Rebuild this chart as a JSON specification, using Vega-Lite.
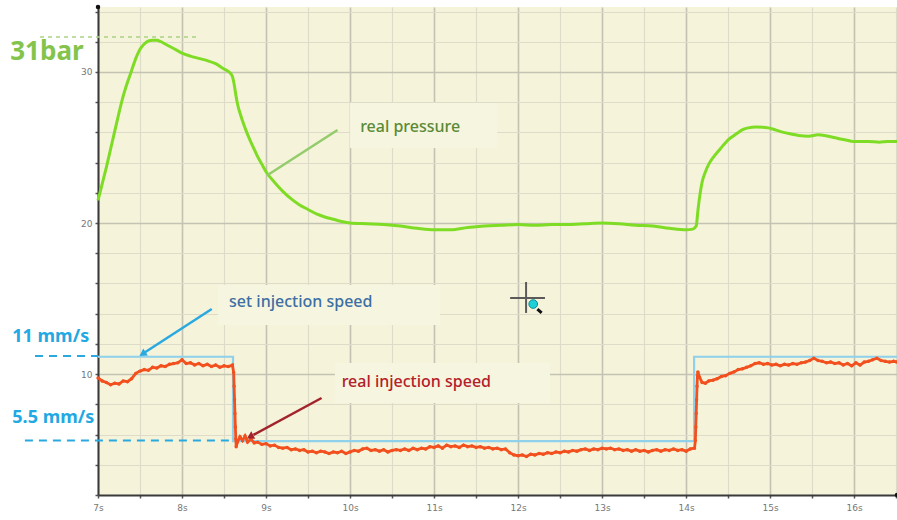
{
  "$schema": "https://vega.github.io/schema/vega-lite/v6.json",
  "width": 799,
  "height": 488,
  "autosize": {"type": "none"},
  "padding": {"left": 98, "top": 7, "right": 0, "bottom": 25},
  "background": "white",
  "config": {"view": {"fill": "#f5f3da", "stroke": null}},
  "resolve": {"scale": {"color": "independent"}},
  "datasets": {
    "boxes": [
      {"t": 10.0, "t2": 11.75, "v": 27.95, "v2": 24.97},
      {"t": 8.43, "t2": 11.07, "v": 15.9, "v2": 13.25},
      {"t": 9.82, "t2": 12.38, "v": 10.74, "v2": 8.09}
    ],
    "green": [
      {"t":7.00,"v":21.5},{"t":7.05,"v":22.6},{"t":7.10,"v":23.7},{"t":7.15,"v":24.9},{"t":7.20,"v":26.1},{"t":7.25,"v":27.3},{"t":7.30,"v":28.4},{"t":7.35,"v":29.3},{"t":7.40,"v":30.1},{"t":7.45,"v":30.9},{"t":7.50,"v":31.5},{"t":7.55,"v":31.85},{"t":7.60,"v":32.05},{"t":7.65,"v":32.1},{"t":7.70,"v":32.1},{"t":7.75,"v":32.0},{"t":7.80,"v":31.85},{"t":7.85,"v":31.7},{"t":7.90,"v":31.55},{"t":7.95,"v":31.4},{"t":8.00,"v":31.25},{"t":8.10,"v":31.05},{"t":8.20,"v":30.9},{"t":8.30,"v":30.75},{"t":8.40,"v":30.55},{"t":8.50,"v":30.2},{"t":8.56,"v":30.0},{"t":8.60,"v":29.7},{"t":8.62,"v":29.2},{"t":8.64,"v":28.5},{"t":8.66,"v":27.9},{"t":8.70,"v":27.1},{"t":8.75,"v":26.3},{"t":8.80,"v":25.6},{"t":8.85,"v":25.0},{"t":8.90,"v":24.4},{"t":8.95,"v":23.9},{"t":9.00,"v":23.4},{"t":9.10,"v":22.7},{"t":9.20,"v":22.1},{"t":9.30,"v":21.6},{"t":9.40,"v":21.2},{"t":9.50,"v":20.9},{"t":9.60,"v":20.6},{"t":9.70,"v":20.4},{"t":9.80,"v":20.25},{"t":9.90,"v":20.1},{"t":10.00,"v":20.0},{"t":10.20,"v":19.95},{"t":10.40,"v":19.9},{"t":10.60,"v":19.8},{"t":10.80,"v":19.65},{"t":11.00,"v":19.55},{"t":11.20,"v":19.55},{"t":11.40,"v":19.7},{"t":11.60,"v":19.8},{"t":11.80,"v":19.85},{"t":12.00,"v":19.9},{"t":12.20,"v":19.85},{"t":12.40,"v":19.9},{"t":12.60,"v":19.9},{"t":12.80,"v":19.95},{"t":13.00,"v":20.0},{"t":13.20,"v":19.95},{"t":13.40,"v":19.85},{"t":13.60,"v":19.8},{"t":13.80,"v":19.65},{"t":14.00,"v":19.55},{"t":14.08,"v":19.6},{"t":14.12,"v":19.8},{"t":14.14,"v":20.8},{"t":14.16,"v":21.7},{"t":14.19,"v":22.7},{"t":14.23,"v":23.4},{"t":14.27,"v":23.9},{"t":14.33,"v":24.4},{"t":14.39,"v":24.8},{"t":14.45,"v":25.2},{"t":14.51,"v":25.55},{"t":14.57,"v":25.8},{"t":14.62,"v":26.0},{"t":14.68,"v":26.2},{"t":14.74,"v":26.3},{"t":14.83,"v":26.36},{"t":14.98,"v":26.3},{"t":15.07,"v":26.15},{"t":15.16,"v":26.0},{"t":15.25,"v":25.9},{"t":15.34,"v":25.8},{"t":15.46,"v":25.75},{"t":15.57,"v":25.85},{"t":15.69,"v":25.75},{"t":15.81,"v":25.6},{"t":15.90,"v":25.5},{"t":15.99,"v":25.4},{"t":16.08,"v":25.4},{"t":16.17,"v":25.4},{"t":16.30,"v":25.35},{"t":16.40,"v":25.4},{"t":16.51,"v":25.4}
    ],
    "setspeed": [
      {"i":1,"t":7.0,"v":11.15},{"i":2,"t":8.607,"v":11.15},{"i":3,"t":8.607,"v":5.57},{"i":4,"t":14.095,"v":5.57},{"i":5,"t":14.095,"v":11.15},{"i":6,"t":16.51,"v":11.15}
    ],
    "red": [
      {"t":7.00,"v":9.75},{"t":7.05,"v":9.55},{"t":7.10,"v":9.45},{"t":7.15,"v":9.30},{"t":7.20,"v":9.40},{"t":7.25,"v":9.35},{"t":7.30,"v":9.55},{"t":7.35,"v":9.50},{"t":7.40,"v":9.70},{"t":7.45,"v":10.05},{"t":7.50,"v":10.20},{"t":7.55,"v":10.30},{"t":7.60,"v":10.25},{"t":7.65,"v":10.45},{"t":7.70,"v":10.40},{"t":7.75,"v":10.55},{"t":7.80,"v":10.50},{"t":7.85,"v":10.65},{"t":7.90,"v":10.70},{"t":7.95,"v":10.75},{"t":8.00,"v":10.95},{"t":8.05,"v":10.70},{"t":8.10,"v":10.75},{"t":8.15,"v":10.60},{"t":8.20,"v":10.70},{"t":8.25,"v":10.55},{"t":8.30,"v":10.65},{"t":8.35,"v":10.50},{"t":8.40,"v":10.60},{"t":8.45,"v":10.45},{"t":8.50,"v":10.55},{"t":8.55,"v":10.50},{"t":8.60,"v":10.60},
      {"t":8.615,"v":10.1},{"t":8.62,"v":9.2},{"t":8.625,"v":8.3},{"t":8.63,"v":7.4},{"t":8.635,"v":6.5},{"t":8.64,"v":5.7},{"t":8.645,"v":5.2},{"t":8.66,"v":5.5},{"t":8.69,"v":5.85},{"t":8.72,"v":5.6},{"t":8.75,"v":5.9},{"t":8.78,"v":5.5},{"t":8.82,"v":5.7},{"t":8.86,"v":5.45},{"t":8.90,"v":5.5},{"t":8.95,"v":5.35},{"t":9.00,"v":5.4},{"t":9.05,"v":5.25},{"t":9.10,"v":5.3},{"t":9.15,"v":5.15},{"t":9.20,"v":5.10},{"t":9.25,"v":5.15},{"t":9.30,"v":5.00},{"t":9.35,"v":5.05},{"t":9.40,"v":4.95},{"t":9.45,"v":5.0},{"t":9.50,"v":4.85},{"t":9.55,"v":4.9},{"t":9.60,"v":4.8},{"t":9.65,"v":4.9},{"t":9.70,"v":4.85},{"t":9.75,"v":4.75},{"t":9.80,"v":4.85},{"t":9.85,"v":4.8},{"t":9.90,"v":4.9},{"t":9.95,"v":4.75},{"t":10.00,"v":4.85},{"t":10.05,"v":4.95},{"t":10.10,"v":4.9},{"t":10.15,"v":5.05},{"t":10.20,"v":5.1},{"t":10.25,"v":4.95},{"t":10.30,"v":5.0},{"t":10.35,"v":4.9},{"t":10.40,"v":5.0},{"t":10.45,"v":4.85},{"t":10.50,"v":4.95},{"t":10.55,"v":5.0},{"t":10.60,"v":4.95},{"t":10.65,"v":5.05},{"t":10.70,"v":4.95},{"t":10.75,"v":5.1},{"t":10.80,"v":5.0},{"t":10.85,"v":5.1},{"t":10.90,"v":5.05},{"t":10.95,"v":5.2},{"t":11.00,"v":5.15},{"t":11.05,"v":5.25},{"t":11.10,"v":5.1},{"t":11.15,"v":5.3},{"t":11.20,"v":5.2},{"t":11.25,"v":5.25},{"t":11.30,"v":5.15},{"t":11.35,"v":5.3},{"t":11.40,"v":5.2},{"t":11.45,"v":5.25},{"t":11.50,"v":5.15},{"t":11.55,"v":5.2},{"t":11.60,"v":5.1},{"t":11.65,"v":5.15},{"t":11.70,"v":5.05},{"t":11.75,"v":5.1},{"t":11.80,"v":5.0},{"t":11.85,"v":5.05},{"t":11.90,"v":4.8},{"t":11.95,"v":4.65},{"t":12.00,"v":4.6},{"t":12.05,"v":4.65},{"t":12.10,"v":4.55},{"t":12.15,"v":4.7},{"t":12.20,"v":4.65},{"t":12.25,"v":4.75},{"t":12.30,"v":4.7},{"t":12.35,"v":4.8},{"t":12.40,"v":4.75},{"t":12.45,"v":4.85},{"t":12.50,"v":4.8},{"t":12.55,"v":4.9},{"t":12.60,"v":4.85},{"t":12.65,"v":4.95},{"t":12.70,"v":4.9},{"t":12.75,"v":5.0},{"t":12.80,"v":5.05},{"t":12.85,"v":4.95},{"t":12.90,"v":5.05},{"t":12.95,"v":5.0},{"t":13.00,"v":5.1},{"t":13.05,"v":5.05},{"t":13.10,"v":5.1},{"t":13.15,"v":5.0},{"t":13.20,"v":5.05},{"t":13.25,"v":4.95},{"t":13.30,"v":5.0},{"t":13.35,"v":4.9},{"t":13.40,"v":5.0},{"t":13.45,"v":4.9},{"t":13.50,"v":4.95},{"t":13.55,"v":4.85},{"t":13.60,"v":4.95},{"t":13.65,"v":5.0},{"t":13.70,"v":4.9},{"t":13.75,"v":5.0},{"t":13.80,"v":4.95},{"t":13.85,"v":5.05},{"t":13.90,"v":4.95},{"t":13.95,"v":5.0},{"t":14.00,"v":4.9},{"t":14.05,"v":5.05},{"t":14.10,"v":5.1},
      {"t":14.11,"v":5.6},{"t":14.115,"v":6.5},{"t":14.12,"v":7.4},{"t":14.125,"v":8.3},{"t":14.13,"v":9.2},{"t":14.135,"v":9.9},{"t":14.14,"v":10.15},{"t":14.16,"v":9.8},{"t":14.19,"v":9.45},{"t":14.23,"v":9.4},{"t":14.27,"v":9.55},{"t":14.32,"v":9.6},{"t":14.37,"v":9.7},{"t":14.42,"v":9.85},{"t":14.47,"v":9.9},{"t":14.52,"v":10.05},{"t":14.57,"v":10.15},{"t":14.62,"v":10.3},{"t":14.67,"v":10.35},{"t":14.72,"v":10.45},{"t":14.77,"v":10.55},{"t":14.82,"v":10.7},{"t":14.87,"v":10.75},{"t":14.92,"v":10.65},{"t":14.97,"v":10.7},{"t":15.02,"v":10.6},{"t":15.07,"v":10.65},{"t":15.12,"v":10.55},{"t":15.17,"v":10.65},{"t":15.22,"v":10.6},{"t":15.27,"v":10.7},{"t":15.32,"v":10.65},{"t":15.37,"v":10.75},{"t":15.42,"v":10.8},{"t":15.47,"v":10.9},{"t":15.52,"v":11.05},{"t":15.57,"v":10.9},{"t":15.62,"v":10.85},{"t":15.67,"v":10.75},{"t":15.72,"v":10.8},{"t":15.77,"v":10.7},{"t":15.82,"v":10.75},{"t":15.87,"v":10.6},{"t":15.92,"v":10.7},{"t":15.97,"v":10.55},{"t":16.02,"v":10.75},{"t":16.07,"v":10.6},{"t":16.12,"v":10.8},{"t":16.17,"v":10.85},{"t":16.22,"v":10.95},{"t":16.27,"v":11.05},{"t":16.32,"v":10.9},{"t":16.37,"v":10.85},{"t":16.42,"v":10.8},{"t":16.47,"v":10.85},{"t":16.51,"v":10.8}
    ],
    "dash_green": [{"t": 6.31, "v": 32.32}, {"t": 8.21, "v": 32.32}],
    "dash_blue": [
      {"k": "a", "t": 6.25, "v": 11.2}, {"k": "a", "t": 7.0, "v": 11.2},
      {"k": "b", "t": 6.13, "v": 5.6}, {"k": "b", "t": 8.607, "v": 5.6}
    ],
    "arrows": [
      {"k": "pressure", "t": 9.851, "v": 26.16}, {"k": "pressure", "t": 9.02, "v": 23.18},
      {"k": "set", "t": 8.354, "v": 14.31}, {"k": "set", "t": 7.56, "v": 11.45},
      {"k": "real", "t": 9.661, "v": 8.42}, {"k": "real", "t": 8.85, "v": 5.98}
    ],
    "heads": [
      {"k": "set", "t": 7.53, "v": 11.33, "a": 236.7},
      {"k": "real", "t": 8.81, "v": 5.86, "a": 241.6}
    ],
    "big": [{"k": "bar", "t": 5.955, "v": 31.32, "label": "31bar"}],
    "mm": [
      {"t": 5.98, "v": 12.46, "label": "11 mm/s"},
      {"t": 5.98, "v": 7.1, "label": "5.5 mm/s"}
    ],
    "notes": [
      {"k": "pressure", "t": 10.12, "v": 26.36, "label": "real pressure"},
      {"k": "set", "t": 8.56, "v": 14.77, "label": "set injection speed"},
      {"k": "real", "t": 9.90, "v": 9.48, "label": "real injection speed"}
    ],
    "cross": [
      {"t": 11.905, "t2": 12.32, "v": 15.04, "v2": 15.04},
      {"t": 12.095, "t2": 12.095, "v": 16.1, "v2": 14.05}
    ],
    "handle": [{"t": 12.23, "t2": 12.28, "v": 14.3, "v2": 14.05}],
    "lens": [{"t": 12.18, "v": 14.64}],
    "ends": [{"t": 16.51, "v": 2}, {"t": 7, "v": 34.3}]
  },
  "encoding": {
    "x": {
      "field": "t", "type": "quantitative",
      "scale": {"domain": [7, 16.51], "nice": false, "zero": false},
      "axis": {
        "title": null,
        "values": [7, 7.5, 8, 8.5, 9, 9.5, 10, 10.5, 11, 11.5, 12, 12.5, 13, 13.5, 14, 14.5, 15, 15.5, 16, 16.5],
        "labelExpr": "datum.value % 1 === 0 ? datum.value + 's' : ''",
        "grid": true,
        "gridColor": {"condition": {"test": "datum.value % 1 === 0", "value": "#c3c2b3"}, "value": "#dddcc9"},
        "gridWidth": {"condition": {"test": "datum.value % 1 === 0", "value": 1.6}, "value": 1.2},
        "domainColor": "#3a3a3a", "domainWidth": 2,
        "tickColor": "#555", "tickSize": 3, "tickWidth": 1.5,
        "labelFont": "DejaVu Sans", "labelFontSize": 9, "labelColor": "#777", "labelPadding": 5,
        "labelFlush": false
      }
    },
    "y": {
      "field": "v", "type": "quantitative",
      "scale": {"domain": [2, 34.3], "nice": false, "zero": false},
      "axis": {
        "title": null,
        "values": [2, 4, 6, 8, 10, 12, 14, 16, 18, 20, 22, 24, 26, 28, 30, 32, 34],
        "labelExpr": "datum.value % 10 === 0 ? datum.value : ''",
        "grid": true,
        "gridColor": {"condition": {"test": "datum.value % 10 === 0", "value": "#c3c2b3"}, "value": "#dddcc9"},
        "gridWidth": {"condition": {"test": "datum.value % 10 === 0", "value": 1.6}, "value": 1.2},
        "domainColor": "#3a3a3a", "domainWidth": 2,
        "tickColor": "#555", "tickSize": 3, "tickWidth": 1.5,
        "labelFont": "DejaVu Sans", "labelFontSize": 9, "labelColor": "#777", "labelPadding": 3
      }
    }
  },
  "layer": [
    {
      "data": {"name": "boxes"},
      "mark": {"type": "rect", "fill": "#f6f5df"},
      "encoding": {"x2": {"field": "t2"}, "y2": {"field": "v2"}}
    },
    {
      "data": {"name": "dash_green"},
      "mark": {"type": "line", "color": "#a9d486", "strokeWidth": 1.5, "strokeDash": [4, 4]},
      "encoding": {}
    },
    {
      "data": {"name": "dash_blue"},
      "mark": {"type": "line", "color": "#2aa9e0", "strokeWidth": 2, "strokeDash": [8, 6]},
      "encoding": {"detail": {"field": "k"}}
    },
    {
      "data": {"name": "setspeed"},
      "mark": {"type": "line", "color": "#8fd0ea", "strokeWidth": 2.2},
      "encoding": {"order": {"field": "i"}}
    },
    {
      "data": {"name": "red"},
      "mark": {"type": "line", "color": "#f2501e", "strokeWidth": 2.8, "point": {"filled": true, "size": 12, "color": "#f2501e"}},
      "encoding": {}
    },
    {
      "data": {"name": "green"},
      "mark": {"type": "line", "color": "#7edc25", "strokeWidth": 3, "interpolate": "monotone"},
      "encoding": {}
    },
    {
      "data": {"name": "arrows"},
      "mark": {"type": "line", "strokeWidth": 2.5},
      "encoding": {
        "detail": {"field": "k"},
        "color": {"field": "k", "type": "nominal", "legend": null,
          "scale": {"domain": ["pressure", "set", "real"], "range": ["#93cc6b", "#2aa9e0", "#a3232b"]}}
      }
    },
    {
      "data": {"name": "heads"},
      "mark": {"type": "point", "shape": "triangle-up", "filled": true, "size": 70, "opacity": 1},
      "encoding": {
        "angle": {"field": "a", "type": "quantitative", "scale": null},
        "color": {"field": "k", "type": "nominal", "legend": null,
          "scale": {"domain": ["set", "real"], "range": ["#2aa9e0", "#a3232b"]}}
      }
    },
    {
      "data": {"name": "cross"},
      "mark": {"type": "rule", "color": "#5a5a5a", "strokeWidth": 2},
      "encoding": {"x2": {"field": "t2"}, "y2": {"field": "v2"}}
    },
    {
      "data": {"name": "handle"},
      "mark": {"type": "rule", "color": "#111", "strokeWidth": 3},
      "encoding": {"x2": {"field": "t2"}, "y2": {"field": "v2"}}
    },
    {
      "data": {"name": "lens"},
      "mark": {"type": "point", "shape": "circle", "filled": true, "size": 75, "color": "#1fd0d6", "opacity": 1, "stroke": "#0a8a96", "strokeWidth": 1}
    },
    {
      "data": {"name": "ends"},
      "mark": {"type": "point", "shape": "circle", "filled": true, "size": 20, "color": "#111", "opacity": 1, "clip": false}
    },
    {
      "data": {"name": "big"},
      "mark": {"type": "text", "align": "left", "baseline": "middle", "font": "Noto Sans", "fontSize": 26, "fontWeight": "bold", "color": "#84c44c"},
      "encoding": {"text": {"field": "label"}}
    },
    {
      "data": {"name": "mm"},
      "mark": {"type": "text", "align": "left", "baseline": "middle", "font": "Noto Sans", "fontSize": 18, "fontWeight": "bold", "color": "#22a8e2"},
      "encoding": {"text": {"field": "label"}}
    },
    {
      "data": {"name": "notes"},
      "mark": {"type": "text", "align": "left", "baseline": "middle", "font": "Noto Sans", "fontSize": 16, "fontWeight": 500},
      "encoding": {
        "text": {"field": "label"},
        "color": {"field": "k", "type": "nominal", "legend": null,
          "scale": {"domain": ["pressure", "set", "real"], "range": ["#5b8a36", "#3c6fa3", "#b3202a"]}}
      }
    }
  ]
}
